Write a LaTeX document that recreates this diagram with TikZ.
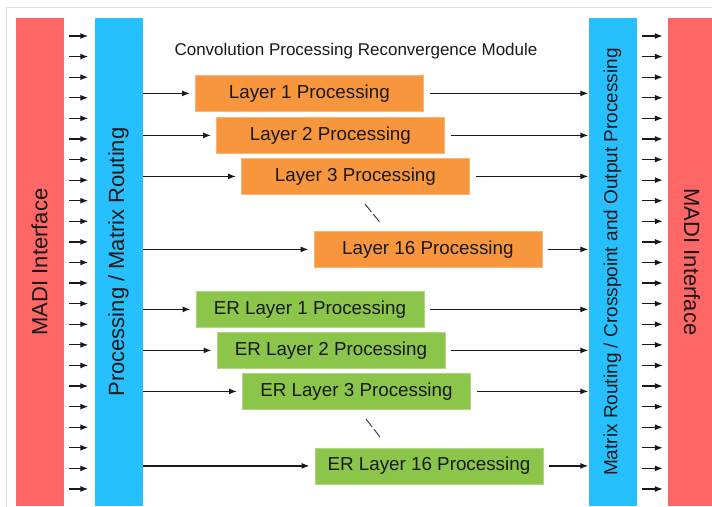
\documentclass[tikz,border=0pt]{standalone}
\usepackage{fontspec}
\setmainfont{Liberation Sans}
\usetikzlibrary{arrows.meta}
\definecolor{madired}{RGB}{255,102,102}
\definecolor{routeblue}{RGB}{38,192,255}
\definecolor{layerorange}{RGB}{247,150,60}
\definecolor{ergreen}{RGB}{139,198,74}
\definecolor{framegray}{RGB}{222,222,222}
\begin{document}
\begin{tikzpicture}[x=1pt,y=-1pt,
  bar/.style={draw=none,inner sep=0pt,minimum width=48pt,minimum height=488pt},
  bartext/.style={inner sep=0pt,text=black!90,font=\fontsize{22}{26}\selectfont},
  layerbox/.style={anchor=north west,inner sep=0pt,minimum width=228pt,minimum height=36pt,
    font=\fontsize{18.8}{22}\selectfont,text=black!90,line width=0.8pt},
  orangebox/.style={layerbox,fill=layerorange,draw=layerorange!70!white},
  greenbox/.style={layerbox,fill=ergreen,draw=ergreen!70!white},
  arr/.style={-{Latex[length=8pt,width=6pt]},line width=1.2pt,black!90},
  dots/.style={line width=1pt,black!75,dash pattern=on 10pt off 3pt}
]
\useasboundingbox (0,0) rectangle (712,506);
\draw[framegray,line width=1pt] (6,520) -- (6,7) -- (720,7);

% bars
\node[bar,fill=madired] (lr) at (39.5,262) {};
\node[bar,fill=routeblue] (lb) at (118.5,262) {};
\node[bar,fill=routeblue] (rb) at (612.5,262) {};
\node[bar,fill=madired] (rr) at (692,262) {};
\node[bartext,rotate=90] (lrt) at (lr.center) {MADI Interface};
\node[bartext,rotate=90] (lbt) at (lb.center) {Processing / Matrix Routing};
\node[bartext,rotate=90,font=\fontsize{19}{22}\selectfont] (rbt) at (rb.center) {Matrix Routing / Crosspoint and Output Processing};
\node[bartext,rotate=-90] (rrt) at (rr.center) {MADI Interface};

% title
\node[anchor=base,inner sep=0pt,font=\fontsize{17}{20}\selectfont,text=black!90] (title) at (356,55) {Convolution Processing Reconvergence Module};

% side arrows
\foreach \i in {0,...,22}{
  \pgfmathsetmacro\yy{36+20.59*\i}
  \coordinate (row\i) at (0,\yy);
  \draw[arr,shorten <=5pt,shorten >=6pt] (lr.east |- row\i) -- (lb.west |- row\i);
  \draw[arr,shorten <=5pt,shorten >=5pt] (rb.east |- row\i) -- (rr.west |- row\i);
}

% layer boxes
\node[orangebox] (L1) at (195,75) {Layer 1 Processing};
\node[orangebox] (L2) at (216,117) {Layer 2 Processing};
\node[orangebox] (L3) at (241,158) {Layer 3 Processing};
\node[orangebox] (L16) at (313.5,231) {Layer 16 Processing};
\node[greenbox] (E1) at (195.5,291) {ER Layer 1 Processing};
\node[greenbox] (E2) at (216.5,332) {ER Layer 2 Processing};
\node[greenbox] (E3) at (242,373) {ER Layer 3 Processing};
\node[greenbox] (E16) at (314.5,447.5) {ER Layer 16 Processing};

\foreach \b in {L1,L2,L3,L16,E1,E2,E3,E16}{
  \draw[arr,shorten >=5pt] (lb.east |- \b.west) -- (\b.west);
  \draw[arr,shorten <=6pt] (\b.east) -- (rb.west |- \b.east);
}

% ellipsis marks
\draw[dots] (365,204) -- (380,222.5);
\draw[dots] (366,419) -- (380,437);
\end{tikzpicture}
\end{document}
